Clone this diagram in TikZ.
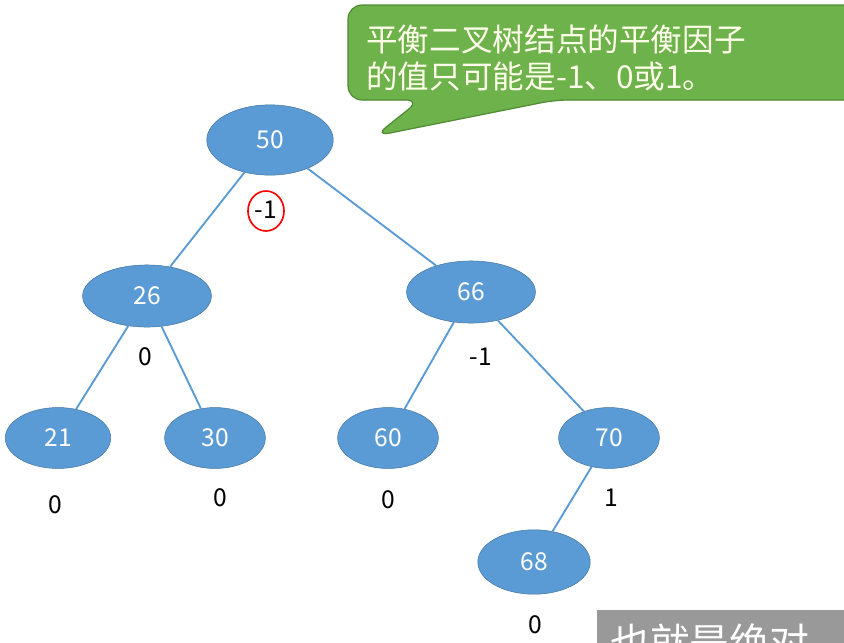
\documentclass[tikz,border=0pt]{standalone}
\usepackage{fontspec}
\setmainfont{Noto Sans CJK SC}
\usetikzlibrary{shapes.geometric}
\definecolor{nodeblue}{HTML}{5B9BD5}
\definecolor{nodeedge}{HTML}{41719C}
\definecolor{tipgreen}{HTML}{6DB24A}
\definecolor{tipedge}{HTML}{4E8A33}
\tikzset{
  nd/.style = {ellipse, fill=nodeblue, draw=nodeedge, text=white, inner sep=0pt,
    minimum width=86pt, minimum height=52pt, font=\fontsize{21}{24}\selectfont},% tree node
  nd_big/.style = {nd, minimum width=108pt, minimum height=60pt},
  bf/.style = {font=\fontsize{21}{24}\selectfont, inner sep=1pt},% balance factor
  edge/.style = {draw=nodeblue, line width=1.6pt}
}
\begin{document}
\begin{tikzpicture}[x=0.03cm, y=-0.03cm]
\useasboundingbox (0,0) rectangle (844,642);
\clip (0,0) rectangle (844,642);
% tree
\node [nd_big] (n50) at (270,140) {50};
\node [nd, minimum width=110pt, minimum height=53pt] (n26) at (147,296) {26};
\node [nd, minimum width=110pt, minimum height=53pt] (n66) at (471,292) {66};
\node [nd, minimum width=90pt] (n21) at (58,438) {21};
\node [nd] (n30) at (215,438) {30};
\node [nd] (n60) at (388,438) {60};
\node [nd] (n70) at (609,438) {70};
\node [nd, minimum width=96pt, minimum height=55pt] (n68) at (534,562) {68};
\draw [edge] (n50) -- (n26);
\draw [edge] (n50) -- (n66);
\draw [edge] (n26) -- (n21);
\draw [edge] (n26) -- (n30);
\draw [edge] (n66) -- (n60);
\draw [edge] (n66) -- (n70);
\draw [edge] (n70) -- (n68);
% balance factors
\node [bf] (b50) at (266,210) {-1};
\draw [red, line width=1.4pt] (266,211) ellipse (18 and 20);
\node [bf] (b26) at (145,357) {0};
\node [bf] (b66) at (481,357) {-1};
\node [bf] (b21) at (55,505) {0};
\node [bf] (b30) at (220,498) {0};
\node [bf] (b60) at (388,500) {0};
\node [bf] (b70) at (611,498) {1};
\node [bf] (b68) at (535,625) {0};
% callout
\draw [fill=tipgreen, draw=tipedge, line width=1pt, rounded corners=12]
  (348,5) -- (860,5) -- (860,100) -- (555,100) -- (375,136) -- (420,100) -- (348,100) -- cycle;
\node [anchor=west, text=white!92!yellow, align=left, inner sep=0pt,
  font=\fontsize{27}{31}\selectfont] (tip) at (366,58)
  {平衡二叉树结点的平衡因子\\的值只可能是-1、0或1。};
% subtitle
\fill [gray!80] (597,610) rectangle (860,660);
\node [anchor=west, text=white, inner sep=0pt, font=\fontsize{34}{40}\selectfont] (sub) at (610,642) {也就是绝对};
\end{tikzpicture}
\end{document}
